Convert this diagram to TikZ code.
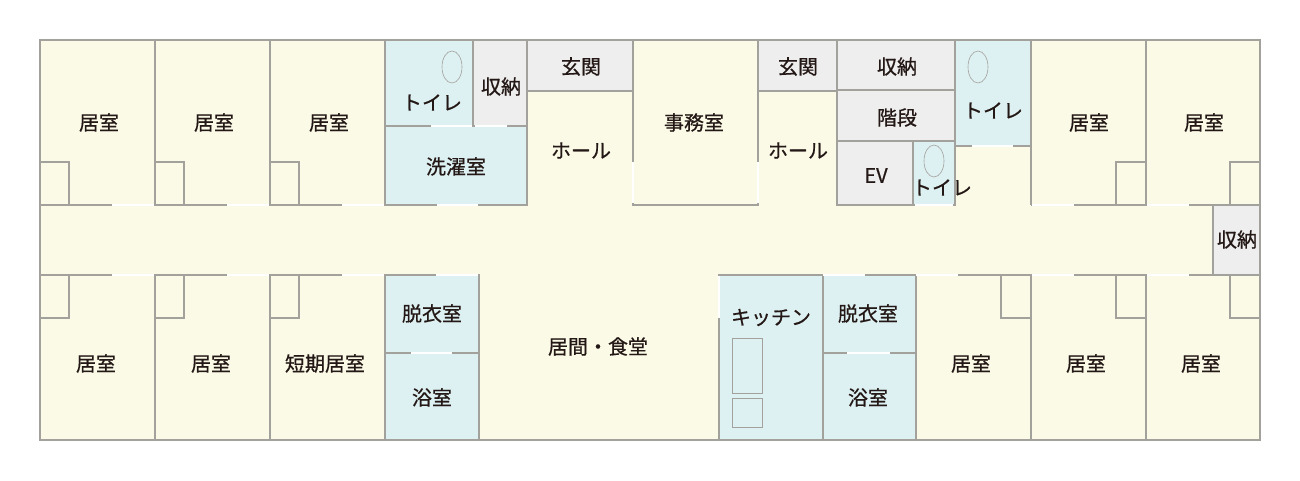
\documentclass[tikz,border=0pt]{standalone}
\usepackage{xcolor}
\usepackage{fontspec}
\setmainfont[FakeBold=0.6]{Noto Sans CJK JP}
\definecolor{roombg}{HTML}{FBFAE7}
\definecolor{waterbg}{HTML}{DDF0F2}
\definecolor{storebg}{HTML}{EEEEEE}
\definecolor{wallc}{HTML}{A3A19B}
\definecolor{labelc}{HTML}{231815}

\begin{document}
\begin{tikzpicture}[
        x=0.75pt,
        y=-0.75pt,
        wall/.style={
            draw=wallc,
            line width=0.78pt
        },
        water/.style={
            wall,
            fill=waterbg
        },
        store/.style={
            wall,
            fill=storebg
        },
        doorgap/.style={
            draw=white,
            line width=1.1pt
        },
        every node/.style={
            text=labelc,
            inner sep=0pt,
            align=center,
            font=\fontsize{15pt}{16pt}\selectfont
        }
    ]
        \useasboundingbox (0,0) rectangle (1300,481);

        % Floor
        \fill[roombg] (40,40) rectangle (1260,440);

        % Wet rooms and storage
        \draw[water] (385,40) rectangle (473,126);
        \draw[store] (473,40) rectangle (527,126);
        \draw[water] (385,126) rectangle (527,205);
        \draw[store] (527,40) rectangle (633,91);
        \draw[store] (758,40) rectangle (837,91);
        \draw[store] (837,40) rectangle (955,90);
        \draw[store] (837,90) rectangle (955,141);
        \draw[store] (837,141) rectangle (913,205);
        \draw[water] (913,141) rectangle (955,205);
        \draw[water] (955,40) rectangle (1031,146);
        \draw[store] (1213,205) rectangle (1260,275);
        \draw[water] (385,275) rectangle (479,353);
        \draw[water] (385,353) rectangle (479,440);
        \draw[water] (719,275) rectangle (823,440);
        \draw[water] (823,275) rectangle (916,353);
        \draw[water] (823,353) rectangle (916,440);

        % Walls
        \draw[wall] (40,40) rectangle (1260,440);
        \foreach \wx in {155,270} {
            \draw[wall] (\wx,40) -- (\wx,205);
            \draw[wall] (\wx,275) -- (\wx,440);
        }
        \draw[wall] (633,40) -- (633,205) -- (758,205) -- (758,40);
        \draw[wall] (1031,40) -- (1031,205);
        \draw[wall] (1146,40) -- (1146,205);
        \draw[wall] (40,205) -- (385,205);
        \draw[wall] (1031,205) -- (1260,205);
        \draw[wall] (40,275) -- (479,275);
        \draw[wall] (719,275) -- (1260,275);
        \draw[wall] (1031,275) -- (1031,440);
        \draw[wall] (1146,275) -- (1146,440);

        % Closets
        \foreach \cx in {40,155,270} {
            \draw[wall] (\cx,162) -| (\cx+29,205);
            \draw[wall] (\cx,318) -| (\cx+29,275);
        }
        \foreach \cx in {1146,1260} {
            \draw[wall] (\cx,162) -| (\cx-30,205);
            \draw[wall] (\cx,318) -| (\cx-30,275);
        }
        \draw[wall] (1031,318) -| (1001,275);

        % Fixtures
        \draw[wallc, line width=0.45pt] (452,67) ellipse (10 and 16);
        \draw[wallc, line width=0.45pt] (934,161) ellipse (10 and 16);
        \draw[wallc, line width=0.45pt] (978,67) ellipse (10 and 16);
        \draw[wallc, line width=0.55pt] (732,338) rectangle (762,393);
        \draw[wallc, line width=0.55pt] (732,398) rectangle (762,427);

        % Door openings
        \foreach \gx in {112,227,342,1032,1147} {
            \draw[doorgap] (\gx,205) -- (\gx+42,205);
        }
        \foreach \gx in {112,227,342,436,823,916,1032,1147} {
            \draw[doorgap] (\gx,275) -- (\gx+42,275);
        }
        \draw[doorgap] (431,126) -- (472,126);
        \draw[doorgap] (475,126) -- (507,126);
        \draw[doorgap] (437,205) -- (478,205);
        \draw[doorgap] (915,205) -- (953,205);
        \draw[doorgap] (972,146) -- (1013,146);
        \draw[doorgap] (411,353) -- (452,353);
        \draw[doorgap] (847,353) -- (890,353);
        \draw[doorgap] (633,162) -- (633,203);
        \draw[doorgap] (758,162) -- (758,203);
        \draw[doorgap] (719,276) -- (719,318);

        % Labels
        \node (roomA) at (99,122.5) {居室};
        \node (roomB) at (214,122.5) {居室};
        \node (roomC) at (329,122.5) {居室};
        \node (toiletA) at (432,102.5) {トイレ};
        \node (storeA) at (501,86.5) {収納};
        \node (laundry) at (456,166.5) {洗濯室};
        \node (entryA) at (581,66.5) {玄関};
        \node (hallA) at (581,150.5) {ホール};
        \node (office) at (694,122.5) {事務室};
        \node (entryB) at (798,66.5) {玄関};
        \node (hallB) at (798,150.5) {ホール};
        \node (storeB) at (897,66.5) {収納};
        \node (stairs) at (897,117.5) {階段};
        \node (elevator) at (876,175.5) {EV};
        \node (toiletB) at (942,187.5) {トイレ};
        \node (toiletC) at (993,110.5) {トイレ};
        \node (roomD) at (1089,122.5) {居室};
        \node (roomE) at (1204,122.5) {居室};
        \node (storeC) at (1237,239.5) {収納};
        \node (roomF) at (96,363.5) {居室};
        \node (roomG) at (211,363.5) {居室};
        \node (shortstay) at (325,363.5) {短期居室};
        \node (dressA) at (432,313.5) {脱衣室};
        \node (bathA) at (432,397.5) {浴室};
        \node (living) at (598,346.5) {居間・食堂};
        \node (kitchen) at (771,317.5) {キッチン};
        \node (dressB) at (868,313.5) {脱衣室};
        \node (bathB) at (868,397.5) {浴室};
        \node (roomH) at (971,363.5) {居室};
        \node (roomI) at (1086,363.5) {居室};
        \node (roomJ) at (1201,363.5) {居室};
    \end{tikzpicture}
\end{document}
